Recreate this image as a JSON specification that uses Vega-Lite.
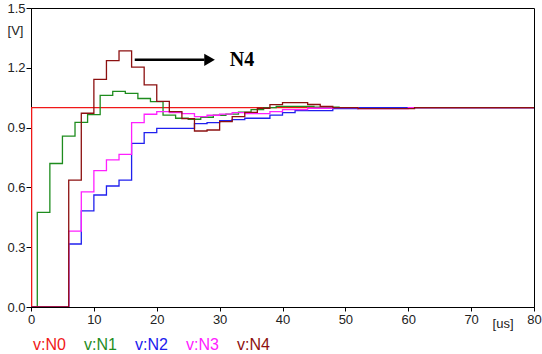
{
  "$schema": "https://vega.github.io/schema/vega-lite/v6.json",
  "width": 503,
  "height": 299,
  "autosize": {"type": "none"},
  "padding": {"left": 31, "top": 8, "right": 8, "bottom": 47},
  "background": "white",
  "config": {"view": {"stroke": "black", "strokeWidth": 1}, "font": "Liberation Sans"},
  "datasets": {
    "wave": [
      {"s": "v:N0", "t": 0, "v": 0}, {"s": "v:N0", "t": 0.1, "v": 1.0}, {"s": "v:N0", "t": 80, "v": 1.0},
      {"s": "v:N1", "t": 0, "v": 0}, {"s": "v:N1", "t": 1, "v": 0.475}, {"s": "v:N1", "t": 3, "v": 0.72}, {"s": "v:N1", "t": 5, "v": 0.857}, {"s": "v:N1", "t": 7, "v": 0.926}, {"s": "v:N1", "t": 9, "v": 0.965}, {"s": "v:N1", "t": 11, "v": 1.062}, {"s": "v:N1", "t": 13, "v": 1.082}, {"s": "v:N1", "t": 15, "v": 1.072}, {"s": "v:N1", "t": 17, "v": 1.046}, {"s": "v:N1", "t": 19, "v": 1.03}, {"s": "v:N1", "t": 21, "v": 0.963}, {"s": "v:N1", "t": 23, "v": 0.947}, {"s": "v:N1", "t": 25, "v": 0.942}, {"s": "v:N1", "t": 27, "v": 0.952}, {"s": "v:N1", "t": 29, "v": 0.962}, {"s": "v:N1", "t": 31, "v": 0.968}, {"s": "v:N1", "t": 33, "v": 0.977}, {"s": "v:N1", "t": 35, "v": 0.99}, {"s": "v:N1", "t": 37, "v": 1.0}, {"s": "v:N1", "t": 39, "v": 1.006}, {"s": "v:N1", "t": 45, "v": 1.003}, {"s": "v:N1", "t": 49, "v": 1.0}, {"s": "v:N1", "t": 80, "v": 1.0},
      {"s": "v:N2", "t": 0, "v": 0}, {"s": "v:N2", "t": 6, "v": 0.316}, {"s": "v:N2", "t": 8, "v": 0.482}, {"s": "v:N2", "t": 10, "v": 0.562}, {"s": "v:N2", "t": 12, "v": 0.607}, {"s": "v:N2", "t": 14, "v": 0.637}, {"s": "v:N2", "t": 16, "v": 0.821}, {"s": "v:N2", "t": 18, "v": 0.875}, {"s": "v:N2", "t": 20, "v": 0.896}, {"s": "v:N2", "t": 26, "v": 0.92}, {"s": "v:N2", "t": 28, "v": 0.925}, {"s": "v:N2", "t": 30, "v": 0.935}, {"s": "v:N2", "t": 32, "v": 0.94}, {"s": "v:N2", "t": 34, "v": 0.947}, {"s": "v:N2", "t": 38, "v": 0.963}, {"s": "v:N2", "t": 40, "v": 0.975}, {"s": "v:N2", "t": 42, "v": 0.985}, {"s": "v:N2", "t": 48, "v": 0.995}, {"s": "v:N2", "t": 52, "v": 1.0}, {"s": "v:N2", "t": 80, "v": 1.0},
      {"s": "v:N3", "t": 0, "v": 0}, {"s": "v:N3", "t": 6, "v": 0.381}, {"s": "v:N3", "t": 8, "v": 0.578}, {"s": "v:N3", "t": 10, "v": 0.684}, {"s": "v:N3", "t": 12, "v": 0.738}, {"s": "v:N3", "t": 14, "v": 0.766}, {"s": "v:N3", "t": 16, "v": 0.925}, {"s": "v:N3", "t": 18, "v": 0.967}, {"s": "v:N3", "t": 20, "v": 0.98}, {"s": "v:N3", "t": 22, "v": 0.975}, {"s": "v:N3", "t": 24, "v": 0.97}, {"s": "v:N3", "t": 26, "v": 0.955}, {"s": "v:N3", "t": 28, "v": 0.962}, {"s": "v:N3", "t": 30, "v": 0.968}, {"s": "v:N3", "t": 32, "v": 0.975}, {"s": "v:N3", "t": 34, "v": 0.97}, {"s": "v:N3", "t": 38, "v": 0.98}, {"s": "v:N3", "t": 40, "v": 0.99}, {"s": "v:N3", "t": 44, "v": 0.997}, {"s": "v:N3", "t": 48, "v": 1.0}, {"s": "v:N3", "t": 52, "v": 0.995}, {"s": "v:N3", "t": 60, "v": 1.0}, {"s": "v:N3", "t": 80, "v": 1.0},
      {"s": "v:N4", "t": 0, "v": 0}, {"s": "v:N4", "t": 6, "v": 0.637}, {"s": "v:N4", "t": 8, "v": 0.972}, {"s": "v:N4", "t": 10, "v": 1.142}, {"s": "v:N4", "t": 12, "v": 1.236}, {"s": "v:N4", "t": 14, "v": 1.285}, {"s": "v:N4", "t": 16, "v": 1.203}, {"s": "v:N4", "t": 18, "v": 1.114}, {"s": "v:N4", "t": 20, "v": 1.032}, {"s": "v:N4", "t": 22, "v": 0.98}, {"s": "v:N4", "t": 24, "v": 0.945}, {"s": "v:N4", "t": 26, "v": 0.883}, {"s": "v:N4", "t": 28, "v": 0.888}, {"s": "v:N4", "t": 30, "v": 0.93}, {"s": "v:N4", "t": 32, "v": 0.955}, {"s": "v:N4", "t": 34, "v": 0.976}, {"s": "v:N4", "t": 36, "v": 0.997}, {"s": "v:N4", "t": 38, "v": 1.015}, {"s": "v:N4", "t": 40, "v": 1.025}, {"s": "v:N4", "t": 44, "v": 1.016}, {"s": "v:N4", "t": 46, "v": 1.006}, {"s": "v:N4", "t": 48, "v": 1.0}, {"s": "v:N4", "t": 52, "v": 0.995}, {"s": "v:N4", "t": 61, "v": 1.0}, {"s": "v:N4", "t": 80, "v": 1.0}
    ],
    "arrow": [{"t": 16.5, "t2": 27.6, "v": 1.24}],
    "head": [{"t": 28.4, "v": 1.24}],
    "label": [{"t": 31.6, "v": 1.24, "txt": "N4"}]
  },
  "layer": [
    {
      "data": {"name": "wave"},
      "mark": {"type": "line", "interpolate": "step-after", "strokeWidth": 1.3, "clip": true},
      "encoding": {
        "x": {
          "field": "t", "type": "quantitative",
          "scale": {"domain": [0, 80], "nice": false},
          "axis": {
            "title": null, "grid": false,
            "values": [0, 10, 20, 30, 40, 50, 60, 70, 75, 80],
            "labelExpr": "datum.value == 75 ? '[us]' : format(datum.value, 'd')",
            "labelFlush": false, "labelOverlap": false, "labelFont": "Liberation Sans", "labelFontSize": 13, "labelColor": "#222",
            "domainColor": "black", "tickColor": "black", "tickSize": 4,
            "tickOpacity": {"condition": {"test": "datum.value == 75", "value": 0}, "value": 1},
            "labelPadding": {"condition": {"test": "datum.value == 75", "value": 6}, "value": 2}
          }
        },
        "y": {
          "field": "v", "type": "quantitative",
          "scale": {"domain": [0, 1.5], "nice": false},
          "axis": {
            "title": "[V]", "titleAngle": 0, "titleX": -16, "titleY": 22, "titleAlign": "center", "titleBaseline": "middle",
            "titleFont": "Liberation Sans", "titleFontSize": 13, "titleFontWeight": "normal", "titleColor": "#222",
            "grid": false,
            "values": [0, 0.15, 0.3, 0.45, 0.6, 0.75, 0.9, 1.05, 1.2, 1.35, 1.5],
            "labelExpr": "datum.value > 1.45 ? '1.5' : (datum.value > 1.15 && datum.value < 1.25 ? '1.2' : (datum.value > 0.85 && datum.value < 0.95 ? '0.9' : (datum.value > 0.55 && datum.value < 0.65 ? '0.6' : (datum.value > 0.25 && datum.value < 0.35 ? '0.3' : (datum.value < 0.05 ? '0.0' : '')))))",
            "labelFlush": false, "labelOverlap": false, "labelBound": false, "labelFont": "Liberation Sans", "labelFontSize": 13, "labelColor": "#222",
            "domainColor": "black", "tickColor": "black", "tickSize": 5, "labelPadding": 1
          }
        },
        "color": {
          "field": "s", "type": "nominal",
          "scale": {"domain": ["v:N0", "v:N1", "v:N2", "v:N3", "v:N4"], "range": ["#f01818", "#1e8c1e", "#2020ee", "#ff20ff", "#8c1010"]},
          "legend": {
            "title": null, "orient": "none", "legendX": -14, "legendY": 329, "direction": "horizontal",
            "symbolSize": 0, "symbolStrokeWidth": 0, "symbolOpacity": 0, "labelOffset": 0,
            "labelFont": "Liberation Sans", "labelFontSize": 16, "columnPadding": 2, "padding": 0,
            "encode": {"labels": {"update": {"fill": {"scale": "color", "field": "value"}}}}
          }
        }
      }
    },
    {
      "data": {"name": "arrow"},
      "mark": {"type": "rule", "color": "black", "strokeWidth": 2.5},
      "encoding": {
        "x": {"field": "t", "type": "quantitative"},
        "x2": {"field": "t2"},
        "y": {"field": "v", "type": "quantitative"}
      }
    },
    {
      "data": {"name": "head"},
      "mark": {"type": "point", "shape": "triangle-right", "filled": true, "color": "black", "opacity": 1, "size": 150},
      "encoding": {
        "x": {"field": "t", "type": "quantitative"},
        "y": {"field": "v", "type": "quantitative"}
      }
    },
    {
      "data": {"name": "label"},
      "mark": {"type": "text", "font": "Liberation Serif", "fontWeight": "bold", "fontSize": 20, "align": "left", "baseline": "middle", "color": "black"},
      "encoding": {
        "x": {"field": "t", "type": "quantitative"},
        "y": {"field": "v", "type": "quantitative"},
        "text": {"field": "txt"}
      }
    }
  ]
}
